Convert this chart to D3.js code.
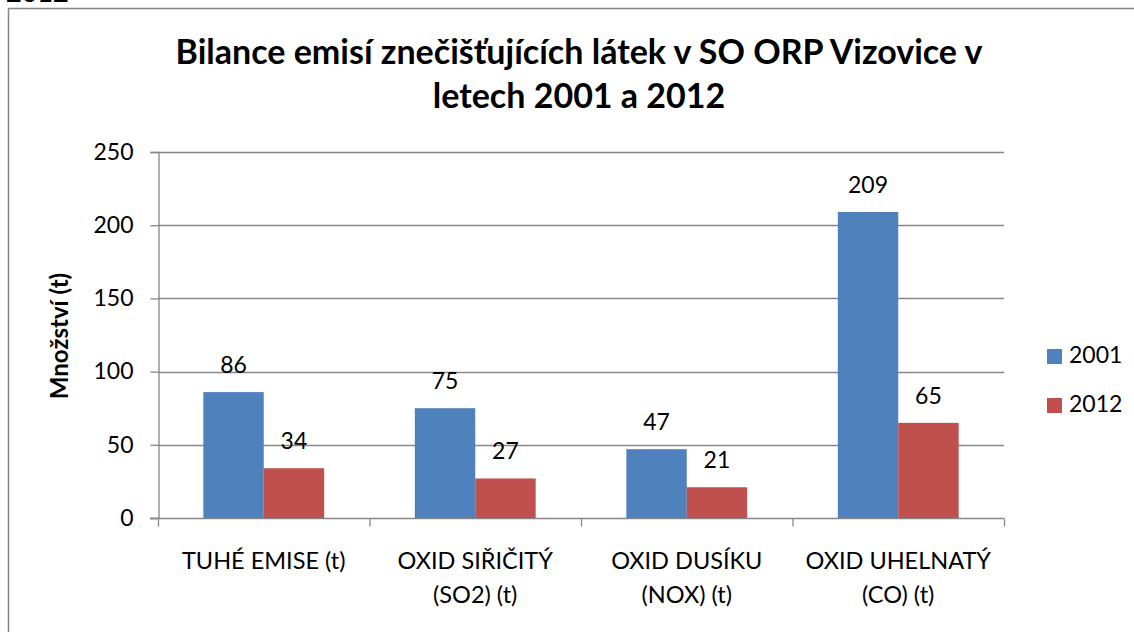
<!DOCTYPE html>
<html lang="cs">

<head>
    <meta charset="utf-8">
    <style>
        body {
            margin: 0;
            background: #fff;
            font-family: Lato, 'Open Sans', sans-serif;
        }
    </style>
</head>

<body>
    <div id="chart"></div>
    <script src="https://d3js.org/d3.v7.min.js"></script>
    <script>
        // data
        const categories = [
            ['TUHÉ EMISE (t)'],
            ['OXID SIŘIČITÝ', '(SO2) (t)'],
            ['OXID DUSÍKU', '(NOX) (t)'],
            ['OXID UHELNATÝ', '(CO) (t)']
        ];
        const seriesNames = ['2001', '2012'];
        const values2001 = [86, 75, 47, 209];
        const values2012 = [34, 27, 21, 65];
        const yTicks = [0, 50, 100, 150, 200, 250];
        const colors = ['#4F81BD', '#C0504D'];

        const width = 1134, height = 632;
        const plot = { left: 158, right: 1004, top: 152, bottom: 518 };
        const gray = '#878787';
        const fs = '23px';

        const svg = d3.select('#chart').append('svg')
            .attr('width', width)
            .attr('height', height);

        // cut-off text above the chart object (as in the source page)
        svg.append('text')
            .attr('x', 6).attr('y', 2)
            .style('font-size', '27px')
            .style('font-weight', 'bold')
            .text('2012');

        // chart border (only top and left visible)
        svg.append('rect')
            .attr('x', 8.5).attr('y', 8.5)
            .attr('width', 1200).attr('height', 700)
            .attr('fill', 'none')
            .attr('stroke', gray)
            .attr('stroke-width', 1.5);

        // title
        const title = svg.append('text')
            .attr('text-anchor', 'middle')
            .style('font-size', '34px')
            .style('font-weight', 'bold');
        title.append('tspan').attr('x', 579).attr('y', 64)
            .text('Bilance emisí znečišťujících látek v SO ORP Vizovice v');
        title.append('tspan').attr('x', 579).attr('y', 108)
            .text('letech 2001 a 2012');

        const catIdx = categories.map((d, i) => i);
        const x0 = d3.scaleBand().domain(catIdx).range([plot.left, plot.right]).padding(0);
        const x1 = d3.scaleBand().domain(seriesNames).range([0, x0.bandwidth()])
            .paddingInner(0).paddingOuter(0.75);
        const y = d3.scaleLinear().domain([0, 250]).range([plot.bottom, plot.top]);

        // gridlines
        svg.append('g')
            .selectAll('line')
            .data(yTicks.filter(d => d > 0))
            .enter()
            .append('line')
            .attr('x1', plot.left).attr('x2', plot.right)
            .attr('y1', d => Math.round(y(d)) + 0.5).attr('y2', d => Math.round(y(d)) + 0.5)
            .attr('stroke', gray).attr('stroke-width', 1.3);

        // y axis
        const yAxis = svg.append('g')
            .attr('transform', `translate(${plot.left + 0.5},0)`)
            .call(d3.axisLeft(y).tickValues(yTicks).tickSize(8).tickPadding(17));
        yAxis.select('.domain').attr('stroke', gray).attr('stroke-width', 1.3);
        yAxis.selectAll('.tick line').attr('stroke', gray).attr('stroke-width', 1.3);
        yAxis.selectAll('.tick text')
            .style('font-family', 'Lato')
            .style('font-size', fs)
            .attr('fill', '#000');

        // x axis with ticks between categories
        const xAxisG = svg.append('g').attr('transform', `translate(0,${plot.bottom + 0.5})`);
        xAxisG.append('line')
            .attr('x1', plot.left - 8).attr('x2', plot.right)
            .attr('stroke', gray).attr('stroke-width', 1.3);
        xAxisG.selectAll('.sep')
            .data(catIdx.concat([categories.length]))
            .enter()
            .append('line')
            .attr('x1', d => (d < categories.length ? x0(d) : plot.right) + 0.5)
            .attr('x2', d => (d < categories.length ? x0(d) : plot.right) + 0.5)
            .attr('y1', 0).attr('y2', 8)
            .attr('stroke', gray).attr('stroke-width', 1.3);

        const catLabels = svg.append('g')
            .selectAll('text')
            .data(categories)
            .enter()
            .append('text')
            .attr('text-anchor', 'middle')
            .style('font-size', '23.5px');
        catLabels.each(function (lines, i) {
            const t = d3.select(this);
            lines.forEach((l, j) => {
                t.append('tspan')
                    .attr('x', x0(i) + x0.bandwidth() / 2)
                    .attr('y', 569 + j * 34)
                    .text(l);
            });
        });

        // bars
        const series = [values2001, values2012];
        const groups = svg.append('g')
            .selectAll('g')
            .data(series)
            .enter()
            .append('g')
            .attr('fill', (d, i) => colors[i]);

        groups.selectAll('rect')
            .data((d, si) => d.map((v, ci) => ({ v, ci, s: seriesNames[si] })))
            .enter()
            .append('rect')
            .attr('x', d => x0(d.ci) + x1(d.s))
            .attr('y', d => y(d.v))
            .attr('width', x1.bandwidth())
            .attr('height', d => y(0) - y(d.v));

        // value labels
        groups.selectAll('text')
            .data((d, si) => d.map((v, ci) => ({ v, ci, s: seriesNames[si] })))
            .enter()
            .append('text')
            .attr('x', d => x0(d.ci) + x1(d.s) + x1.bandwidth() / 2)
            .attr('y', d => y(d.v) - 19)
            .attr('text-anchor', 'middle')
            .attr('fill', '#000')
            .style('font-size', fs)
            .text(d => d.v);

        // y axis title
        svg.append('text')
            .attr('transform', 'translate(68,336) rotate(-90)')
            .attr('text-anchor', 'middle')
            .style('font-size', '24px')
            .style('font-weight', 'bold')
            .text('Množství (t)');

        // legend
        const legend = svg.append('g')
            .selectAll('g')
            .data(seriesNames)
            .enter()
            .append('g')
            .attr('transform', (d, i) => `translate(1047,${349 + i * 49})`);
        legend.append('rect')
            .attr('width', 15).attr('height', 15)
            .attr('fill', (d, i) => colors[i]);
        legend.append('text')
            .attr('x', 22).attr('y', 14)
            .style('font-size', fs)
            .text(d => d);
    </script>
</body>

</html>
